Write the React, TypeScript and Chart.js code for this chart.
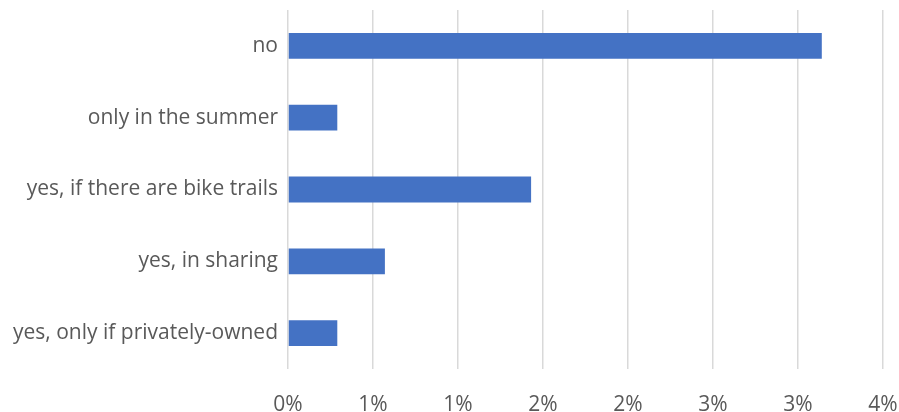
import React, { useEffect, useRef } from "react";
import { Chart, registerables } from "chart.js";

Chart.register(...registerables);

const categories = [
  "no",
  "only in the summer",
  "yes, if there are bike trails",
  "yes, in sharing",
  "yes, only if privately-owned",
];
const values = [3.14, 0.29, 1.43, 0.57, 0.29];
const xMin = 0;
const xMax = 3.5;
const xStep = 0.5;

export default function App() {
  const ref = useRef<HTMLCanvasElement | null>(null);
  useEffect(() => {
    document.body.style.margin = "0";
    const ctx = ref.current!;
    const chart = new Chart(ctx, {
      type: "bar",
      data: {
        labels: categories,
        datasets: [
          {
            data: values,
            backgroundColor: "#4472c4",
            barPercentage: 0.36,
            categoryPercentage: 1,
          },
        ],
      },
      options: {
        indexAxis: "y",
        animation: false,
        responsive: false,
        maintainAspectRatio: false,
        layout: { padding: { top: 10, right: 16, left: 0, bottom: 0 } },
        plugins: { legend: { display: false }, tooltip: { enabled: false } },
        scales: {
          x: {
            min: xMin,
            max: xMax,
            ticks: {
              stepSize: xStep,
              callback: (v: any) => Math.round(Number(v)) + "%",
              color: "#595959",
              font: { family: "Open Sans", size: 21 },
              padding: 23,
              maxRotation: 0,
            },
            grid: { color: "#d9d9d9", lineWidth: 1.5, drawTicks: false },
            border: { display: false },
            afterFit: (s: any) => {
              s.height = 43;
              s.paddingLeft = 0;
              s.paddingRight = 0;
            },
          },
          y: {
            ticks: {
              color: "#595959",
              font: { family: "Open Sans", size: 21, lineHeight: 1.0 },
              padding: 10,
            },
            grid: { display: false, drawTicks: false },
            border: { display: false },
            afterFit: (s: any) => {
              s.width = 288;
              s.paddingTop = 0;
              s.paddingBottom = 0;
            },
          },
        },
      },
    });
    return () => chart.destroy();
  }, []);
  return (
    <div style={{ width: 899, height: 412 }}>
      <canvas ref={ref} width={899} height={412} />
    </div>
  );
}
